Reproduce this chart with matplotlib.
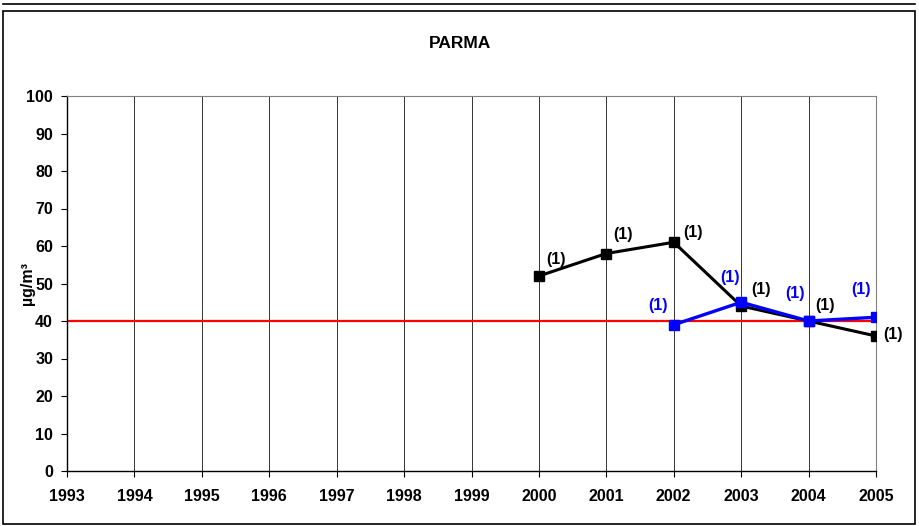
# --- PARMA annual mean chart ---
import numpy as np
from matplotlib import pyplot as plt
from matplotlib.patches import Rectangle
from matplotlib.lines import Line2D

plt.rcParams['font.family'] = ['Liberation Sans', 'DejaVu Sans']
plt.rcParams['font.weight'] = 'bold'

# ___________________________________________________________________________________________
# --- DATA ---
years = list(range(1993, 2006))
limit_values = [40] * len(years)

black_years = [2000, 2001, 2002, 2003, 2004, 2005]
black_values = [52, 58, 61, 44, 40, 36]
black_labels = ["(1)"] * len(black_years)

blue_years = [2002, 2003, 2004, 2005]
blue_values = [39, 45, 40, 41]
blue_labels = ["(1)"] * len(blue_years)

y_ticks = list(range(0, 101, 10))

# label offsets in points (dx, dy)
black_offsets = [(12, 12), (12, 14), (14, 7), (14, 12), (12, 11), (12, 1)]
blue_offsets = [(-11, 14), (-8, 18), (-10, 20), (-11, 20)]

FS = 11.5

# ___________________________________________________________________________________________
# --- FIGURE ---
fig = plt.figure(figsize=(9.19, 5.26), dpi=100)
ax = fig.add_axes([67 / 919, 1 - 471 / 526, (876 - 67) / 919, (471 - 96) / 526])

# outer frames
fig.add_artist(Rectangle((3 / 919, 2 / 526), 912 / 919, 513 / 526, transform=fig.transFigure,
                         fill=False, edgecolor="black", linewidth=1.2))
fig.add_artist(Line2D([3 / 919, 915 / 919], [1 - 4 / 526, 1 - 4 / 526], transform=fig.transFigure,
                      color="black", linewidth=1.2))

fig.text(0.5, 1 - 44 / 526, "PARMA", ha="center", va="center", fontsize=12.5, fontweight="bold")

# vertical grid lines
for yr in years:
    ax.axvline(yr, color="#333333", linewidth=0.7, zorder=1)

ax.plot(years, limit_values, color="#ff0000", linewidth=1.6, zorder=2)
ax.plot(black_years, black_values, color="black", linewidth=2.2, marker="s", markersize=6.5, zorder=3)
ax.plot(blue_years, blue_values, color="#0000ff", linewidth=2.4, marker="s", markersize=6.5, zorder=4)

for x, y, t, (dx, dy) in zip(black_years, black_values, black_labels, black_offsets):
    ax.annotate(t, (x, y), xytext=(dx, dy), textcoords="offset points", ha="center", va="center",
                fontsize=FS, fontweight="bold", color="black")
for x, y, t, (dx, dy) in zip(blue_years, blue_values, blue_labels, blue_offsets):
    ax.annotate(t, (x, y), xytext=(dx, dy), textcoords="offset points", ha="center", va="center",
                fontsize=FS, fontweight="bold", color="#0000ff")

ax.set_xlim(1993, 2005)
ax.set_ylim(0, 100)
ax.set_xticks(years)
ax.set_yticks(y_ticks)
ax.tick_params(axis="both", direction="out", length=4, width=0.8, labelsize=FS)
ax.tick_params(axis="y", pad=6)
ax.tick_params(axis="x", pad=9)
for lbl in ax.get_xticklabels() + ax.get_yticklabels():
    lbl.set_fontweight("bold")

ax.spines["top"].set_color("#808080")
ax.spines["right"].set_color("#808080")
ax.spines["left"].set_linewidth(1.0)
ax.spines["bottom"].set_linewidth(1.0)

ax.set_ylabel("µg/m³", fontsize=FS, fontweight="bold")
ax.yaxis.set_label_coords(-0.04, 0.5)

fig.savefig("out.png", dpi=100)
